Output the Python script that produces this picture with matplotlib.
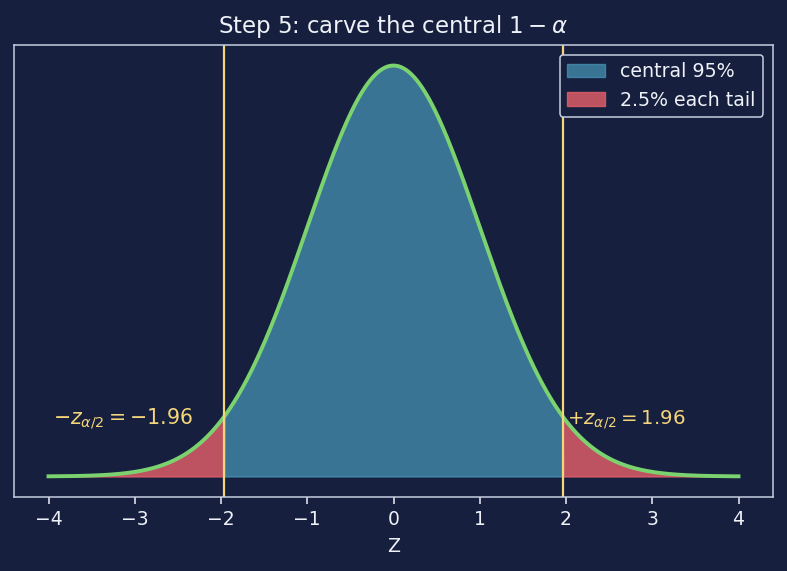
import numpy as np
import matplotlib
matplotlib.use("Agg")
import matplotlib.pyplot as plt

plt.rcParams["font.family"] = ["DejaVu Sans"]
plt.rcParams["mathtext.fontset"] = "dejavusans"

# distribution parameters
mu = 0.0
sigma = 1.0
z_crit = 1.96
x_min, x_max = -4.0, 4.0
x_ticks = [-4, -3, -2, -1, 0, 1, 2, 3, 4]
legend_labels = ["central 95%", "2.5% each tail"]
title = r"Step 5: carve the central $1-\alpha$"
left_label = r"$-z_{\alpha/2} = -1.96$"
right_label = r"$+z_{\alpha/2} = 1.96$"

bg = "#161f3e"
fg = "#eef1f7"
spine_c = "#c5cde0"

x = np.linspace(x_min, x_max, 801)
y = np.exp(-0.5 * ((x - mu) / sigma) ** 2) / (sigma * np.sqrt(2 * np.pi))

fig = plt.figure(figsize=(7.87, 5.71), dpi=100, facecolor=bg)
ax = fig.add_axes([14 / 787, 74 / 571, 759 / 787, 452 / 571])
ax.set_facecolor(bg)

central = (x >= -z_crit) & (x <= z_crit)
ax.fill_between(x, 0, y, where=central, color="#4a9dbf", alpha=0.68,
                edgecolor="#4a9dbf", label=legend_labels[0], interpolate=True)
ax.fill_between(x, 0, y, where=x <= -z_crit, color="#e8606a", alpha=0.8,
                edgecolor="#e8606a", label=legend_labels[1], interpolate=True)
ax.fill_between(x, 0, y, where=x >= z_crit, color="#e8606a", alpha=0.8,
                edgecolor="#e8606a", interpolate=True)
ax.plot(x, y, color="#7bd36f", lw=2.8)
ax.axvline(-z_crit, color="#f5d57a", lw=1.6)
ax.axvline(z_crit, color="#f5d57a", lw=1.6)

ax.text(-3.95, 0.055, left_label, color="#f5d57a", fontsize=14.8, va="center")
ax.text(2.01, 0.055, right_label, color="#f5d57a", fontsize=14.2, va="center")

ax.set_xticks(x_ticks)
ax.set_yticks([])
ax.set_xlabel("Z", color=fg, fontsize=13.7, labelpad=5.5)
ax.set_title(title, color=fg, fontsize=16.5, pad=8.5)
ax.tick_params(colors=fg, labelsize=13.5, length=4.8, width=1.1, pad=4.8)
for s in ax.spines.values():
    s.set_color(spine_c)
    s.set_linewidth(1.1)

leg = ax.legend(loc="upper right", facecolor=bg, edgecolor=spine_c,
                labelcolor=fg, fontsize=13.7, framealpha=1)
leg.get_frame().set_linewidth(1.1)

fig.savefig("out.png", dpi=100, facecolor=bg)
